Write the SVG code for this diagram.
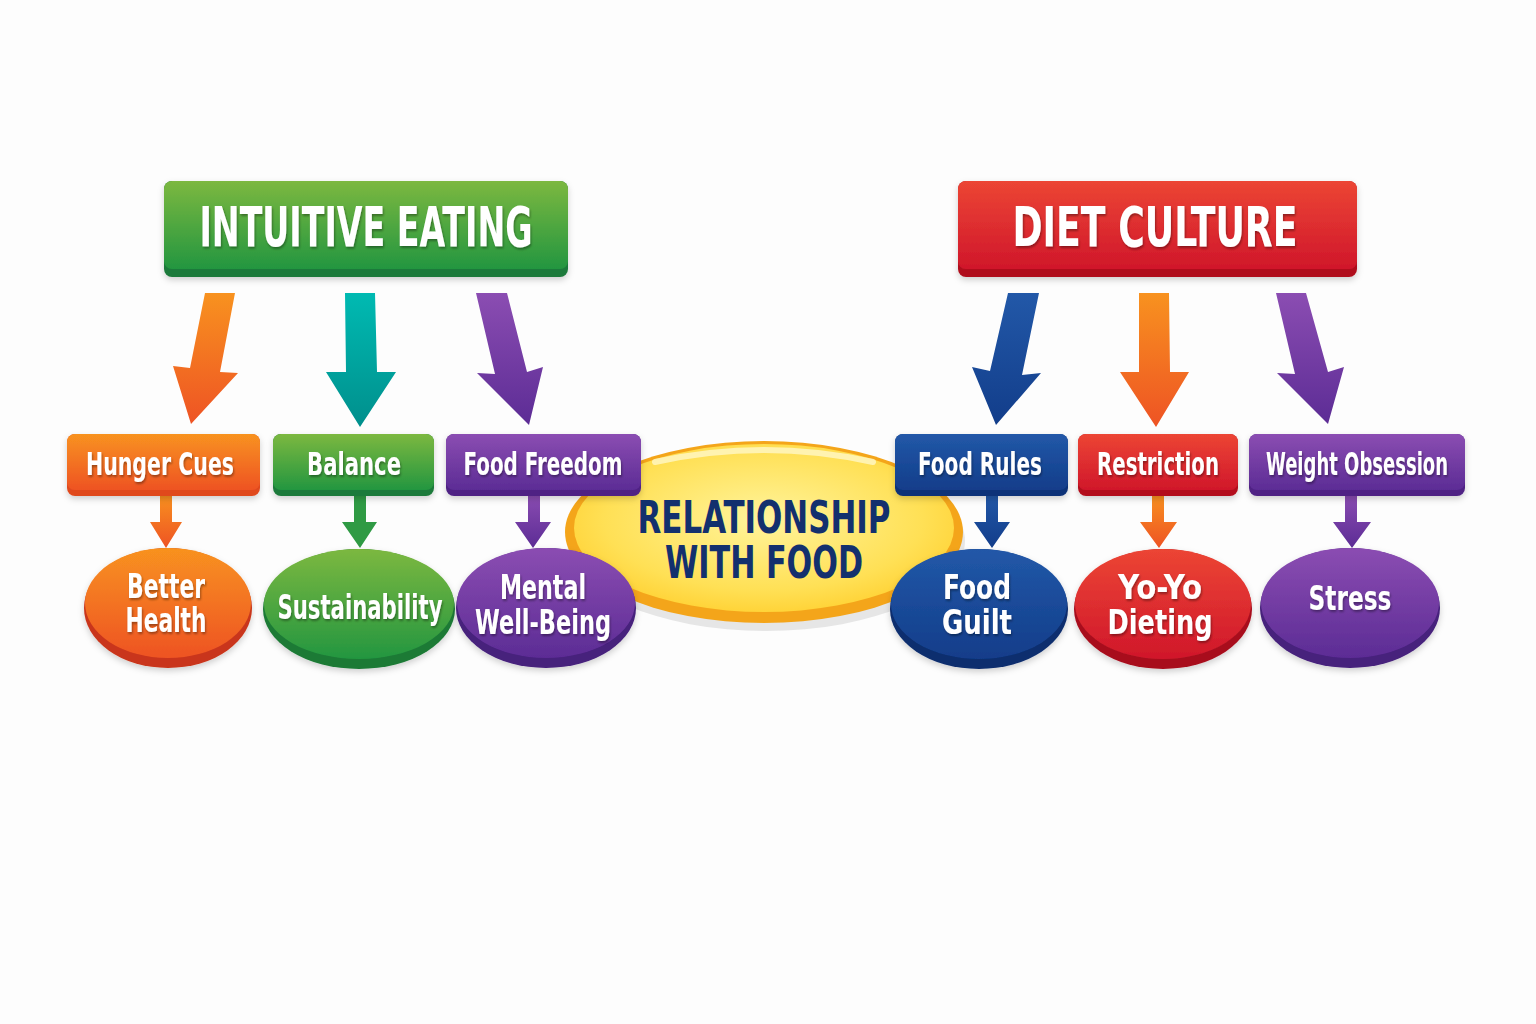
<svg xmlns="http://www.w3.org/2000/svg" width="1536" height="1024" viewBox="0 0 1536 1024">
<defs>
<linearGradient id="gGreen" x1="0" y1="0" x2="0" y2="1"><stop offset="0" stop-color="#7cb83f"/><stop offset="1" stop-color="#23963f"/></linearGradient>
<linearGradient id="gOrange" x1="0" y1="0" x2="0" y2="1"><stop offset="0" stop-color="#f8921f"/><stop offset="1" stop-color="#ee5324"/></linearGradient>
<linearGradient id="gTeal" x1="0" y1="0" x2="0" y2="1"><stop offset="0" stop-color="#00bab2"/><stop offset="1" stop-color="#008f8c"/></linearGradient>
<linearGradient id="gPurple" x1="0" y1="0" x2="0" y2="1"><stop offset="0" stop-color="#8b4db2"/><stop offset="1" stop-color="#5c2c95"/></linearGradient>
<linearGradient id="gRed" x1="0" y1="0" x2="0" y2="1"><stop offset="0" stop-color="#ec4534"/><stop offset="1" stop-color="#d0172b"/></linearGradient>
<linearGradient id="gBlue" x1="0" y1="0" x2="0" y2="1"><stop offset="0" stop-color="#2258a8"/><stop offset="1" stop-color="#123d8a"/></linearGradient>
<radialGradient id="gYellow" cx="0.5" cy="0.45" r="0.6"><stop offset="0" stop-color="#fff49c"/><stop offset="0.7" stop-color="#ffe055"/><stop offset="1" stop-color="#ffcf2e"/></radialGradient>
<filter id="ts" x="-10%" y="-20%" width="120%" height="150%"><feDropShadow dx="1" dy="2" stdDeviation="1" flood-color="#000" flood-opacity="0.35"/></filter>
<filter id="sh" x="-10%" y="-10%" width="120%" height="130%"><feDropShadow dx="0" dy="3" stdDeviation="3" flood-color="#000" flood-opacity="0.18"/></filter>
</defs>
<style>
.t{font-family:"Liberation Sans Narrow","DejaVu Sans Condensed","Liberation Sans",sans-serif;font-weight:bold;fill:#fff;text-anchor:middle;filter:url(#ts)}
.c{font-family:"Liberation Sans Narrow","DejaVu Sans Condensed","Liberation Sans",sans-serif;font-weight:bold;fill:#13306e;text-anchor:middle}
.title{font-size:56px}
.box{font-size:32px}
.ell{font-size:34px}
</style>
<rect width="1536" height="1024" fill="#fdfdfd"/>

<g id="connectors">
<polygon points="205,293 235,293 220,372 238,373 191,424 173,366 190,368" fill="url(#gOrange)"/>
<polygon points="345,293 375,293 377,372 396,372 360,427 326,372 346,372" fill="url(#gTeal)"/>
<polygon points="476,293 507,293 527,372 543,367 529,425 477,373 495,374" fill="url(#gPurple)"/>
<polygon points="1008,293 1039,293 1022,375 1041,373 996,425 972,367 990,371" fill="url(#gBlue)"/>
<polygon points="1139,293 1169,293 1170,372 1189,372 1156,427 1120,372 1139,372" fill="url(#gOrange)"/>
<polygon points="1276,293 1306,293 1328,372 1344,367 1328,424 1277,373 1295,374" fill="url(#gPurple)"/>
<polygon points="160,494 172,494 172,522 182,522 166,548 150,522 160,522" fill="url(#gOrange)"/>
<polygon points="354,494 366,494 366,522 377,522 360,548 342,522 354,522" fill="#2f9a44"/>
<polygon points="528,494 540,494 540,522 551,522 533,548 515,522 528,522" fill="url(#gPurple)"/>
<polygon points="986,494 998,494 998,522 1010,522 992,548 974,522 986,522" fill="url(#gBlue)"/>
<polygon points="1152,494 1164,494 1164,522 1177,522 1159,548 1140,522 1152,522" fill="url(#gOrange)"/>
<polygon points="1345,494 1357,494 1357,522 1371,522 1352,548 1333,522 1345,522" fill="url(#gPurple)"/>
</g>

<g id="center">
<ellipse cx="766" cy="541" rx="199" ry="90" fill="#e6e6e6"/>
<ellipse cx="764" cy="532" rx="199" ry="91" fill="#f4a51a"/>
<ellipse cx="764" cy="528" rx="190" ry="84" fill="url(#gYellow)"/>
<path d="M655,462 Q764,438 873,462" fill="none" stroke="#fff8c8" stroke-width="6" stroke-linecap="round" opacity="0.8"/>
<text class="c" x="764" y="533" font-size="44" textLength="253" lengthAdjust="spacingAndGlyphs">RELATIONSHIP</text>
<text class="c" x="764" y="578" font-size="44" textLength="198" lengthAdjust="spacingAndGlyphs">WITH FOOD</text>
</g>

<g id="intuitive-eating" filter="url(#sh)">
<rect x="164" y="181" width="404" height="96" rx="8" fill="#1d7a3b"/>
<rect x="164" y="181" width="404" height="88" rx="8" fill="url(#gGreen)"/>
<text class="t title" x="366" y="246" textLength="333" lengthAdjust="spacingAndGlyphs">INTUITIVE EATING</text>
</g>
<g id="diet-culture" filter="url(#sh)">
<rect x="958" y="181" width="399" height="96" rx="8" fill="#b0111f"/>
<rect x="958" y="181" width="399" height="88" rx="8" fill="url(#gRed)"/>
<text class="t title" x="1155" y="246" textLength="285" lengthAdjust="spacingAndGlyphs">DIET CULTURE</text>
</g>

<g id="hunger-cues" filter="url(#sh)">
<rect x="67" y="434" width="193" height="62" rx="8" fill="#e04a1f"/>
<rect x="67" y="434" width="193" height="56" rx="8" fill="url(#gOrange)"/>
<text class="t box" x="160" y="475" textLength="148" lengthAdjust="spacingAndGlyphs">Hunger Cues</text>
</g>
<g id="balance" filter="url(#sh)">
<rect x="273" y="434" width="161" height="62" rx="8" fill="#1e7a3b"/>
<rect x="273" y="434" width="161" height="56" rx="8" fill="url(#gGreen)"/>
<text class="t box" x="354" y="475" textLength="94" lengthAdjust="spacingAndGlyphs">Balance</text>
</g>
<g id="food-freedom" filter="url(#sh)">
<rect x="446" y="434" width="195" height="62" rx="8" fill="#4f2284"/>
<rect x="446" y="434" width="195" height="56" rx="8" fill="url(#gPurple)"/>
<text class="t box" x="543" y="475" textLength="159" lengthAdjust="spacingAndGlyphs">Food Freedom</text>
</g>
<g id="food-rules" filter="url(#sh)">
<rect x="895" y="434" width="173" height="62" rx="8" fill="#0e3278"/>
<rect x="895" y="434" width="173" height="56" rx="8" fill="url(#gBlue)"/>
<text class="t box" x="980" y="475" textLength="124" lengthAdjust="spacingAndGlyphs">Food Rules</text>
</g>
<g id="restriction" filter="url(#sh)">
<rect x="1078" y="434" width="160" height="62" rx="8" fill="#b3111f"/>
<rect x="1078" y="434" width="160" height="56" rx="8" fill="url(#gRed)"/>
<text class="t box" x="1158" y="475" textLength="122" lengthAdjust="spacingAndGlyphs">Restriction</text>
</g>
<g id="weight-obsession" filter="url(#sh)">
<rect x="1249" y="434" width="216" height="62" rx="8" fill="#4f2284"/>
<rect x="1249" y="434" width="216" height="56" rx="8" fill="url(#gPurple)"/>
<text class="t box" x="1357" y="475" textLength="182" lengthAdjust="spacingAndGlyphs">Weight Obsession</text>
</g>

<g id="better-health" filter="url(#sh)">
<ellipse cx="168" cy="608" rx="84" ry="60" fill="#c9361a"/>
<ellipse cx="168" cy="603" rx="83" ry="55" fill="url(#gOrange)"/>
<text class="t ell" x="166" y="598" textLength="78" lengthAdjust="spacingAndGlyphs">Better</text>
<text class="t ell" x="166" y="632" textLength="81" lengthAdjust="spacingAndGlyphs">Health</text>
</g>
<g id="sustainability" filter="url(#sh)">
<ellipse cx="359" cy="609" rx="96" ry="60" fill="#1c7a36"/>
<ellipse cx="359" cy="604" rx="95" ry="55" fill="url(#gGreen)"/>
<text class="t ell" x="360" y="619" textLength="165" lengthAdjust="spacingAndGlyphs">Sustainability</text>
</g>
<g id="mental-well-being" filter="url(#sh)">
<ellipse cx="546" cy="608" rx="90" ry="60" fill="#46207c"/>
<ellipse cx="546" cy="603" rx="89" ry="55" fill="url(#gPurple)"/>
<text class="t ell" x="543" y="599" textLength="86" lengthAdjust="spacingAndGlyphs">Mental</text>
<text class="t ell" x="543" y="634" textLength="136" lengthAdjust="spacingAndGlyphs">Well-Being</text>
</g>
<g id="food-guilt" filter="url(#sh)">
<ellipse cx="979" cy="609" rx="89" ry="60" fill="#0c2d6e"/>
<ellipse cx="979" cy="604" rx="88" ry="55" fill="url(#gBlue)"/>
<text class="t ell" x="977" y="599" textLength="68" lengthAdjust="spacingAndGlyphs">Food</text>
<text class="t ell" x="977" y="634" textLength="70" lengthAdjust="spacingAndGlyphs">Guilt</text>
</g>
<g id="yo-yo-dieting" filter="url(#sh)">
<ellipse cx="1163" cy="609" rx="89" ry="60" fill="#a8101f"/>
<ellipse cx="1163" cy="604" rx="88" ry="55" fill="url(#gRed)"/>
<text class="t ell" x="1160" y="599" textLength="84" lengthAdjust="spacingAndGlyphs">Yo-Yo</text>
<text class="t ell" x="1160" y="634" textLength="105" lengthAdjust="spacingAndGlyphs">Dieting</text>
</g>
<g id="stress" filter="url(#sh)">
<ellipse cx="1350" cy="608" rx="90" ry="60" fill="#46207c"/>
<ellipse cx="1350" cy="603" rx="89" ry="55" fill="url(#gPurple)"/>
<text class="t ell" x="1350" y="610" textLength="83" lengthAdjust="spacingAndGlyphs">Stress</text>
</g>
</svg>
